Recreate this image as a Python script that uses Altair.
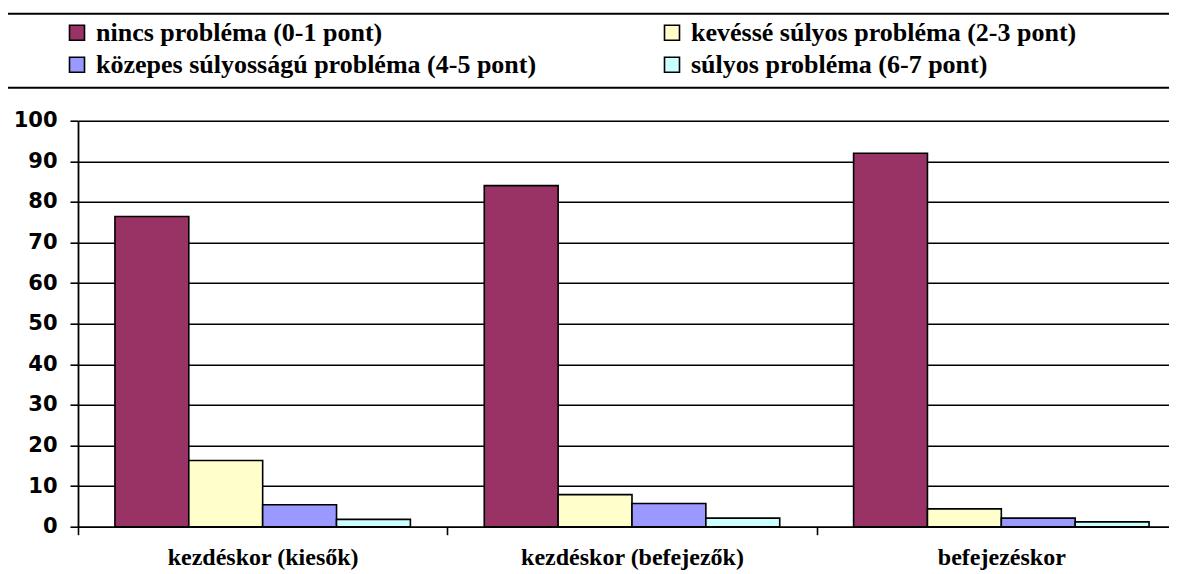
import json
import altair as alt
import pandas as pd

groups = ["kezdéskor (kiesők)", "kezdéskor (befejezők)", "befejezéskor"]
series = [
    "nincs probléma (0-1 pont)",
    "kevéssé súlyos probléma (2-3 pont)",
    "közepes súlyosságú probléma (4-5 pont)",
    "súlyos probléma (6-7 pont)",
]
nincs = [76.4, 84.0, 92.0]
keves = [16.3, 7.9, 4.4]
kozepes = [5.4, 5.7, 2.1]
sulyos = [1.8, 2.1, 1.2]
colors = ["#993366", "#FFFFCC", "#9999FF", "#CCFFFF"]
y_ticks = list(range(0, 101, 10))

rows = []
for si, vals in enumerate([nincs, keves, kozepes, sulyos]):
    for gi, v in enumerate(vals):
        rows.append({"group": groups[gi], "gi": gi, "series": series[si], "si": si, "value": v})
df = pd.DataFrame(rows)

# the legend grid is filled column by column
legend_order = [series[0], series[2], series[1], series[3]]
legend_colors = [colors[0], colors[2], colors[1], colors[3]]

W = 1091
H = 406
PAD_L = 70
PAD_T = 112.7
SVG_H = 566
SERIF = "Liberation Serif"

label_arr = []
for g in groups:
    label_arr += ["", g]
label_expr = json.dumps(label_arr, ensure_ascii=False) + "[round(datum.value*2)]"

xscale = alt.Scale(domain=[0, 2.954], nice=False, zero=False)

bars = (
    alt.Chart(df)
    .transform_calculate(
        x0="datum.gi + 0.1 + 0.2*datum.si",
        x1="datum.gi + 0.3 + 0.2*datum.si",
        base="0",
    )
    .mark_bar(stroke="black", strokeWidth=1.6, clip=False)
    .encode(
        x=alt.X(
            "x0:Q",
            scale=xscale,
            title=None,
            axis=alt.Axis(
                values=[0, 0.5, 1, 1.5, 2, 2.5],
                labelExpr=label_expr,
                grid=False,
                domainColor="black",
                domainWidth=1.6,
                tickColor="black",
                tickWidth=1.6,
                tickSize=8,
                tickOpacity={"condition": {"test": "datum.value % 1 == 0", "value": 1}, "value": 0},
                labelFont=SERIF,
                labelFontWeight="bold",
                labelFontSize=24,
                labelColor="black",
                labelBaseline="alphabetic",
                labelPadding=30,
                labelLimit=500,
                labelOverlap=False,
                labelFlush=False,
                labelBound=False,
            ),
        ),
        x2="x1:Q",
        y=alt.Y(
            "value:Q",
            scale=alt.Scale(domain=[0, 100], nice=False),
            title=None,
            axis=alt.Axis(
                values=y_ticks,
                grid=True,
                gridColor="black",
                gridWidth=1.6,
                gridOpacity=1,
                domainColor="black",
                domainWidth=1.8,
                tickColor="black",
                tickWidth=1.6,
                tickSize=8,
                labelFont="DejaVu Sans",
                labelFontWeight="bold",
                labelFontSize=21,
                labelColor="black",
                labelPadding=13,
            ),
        ),
        y2="base:Q",
        color=alt.Color(
            "series:N",
            scale=alt.Scale(domain=legend_order, range=legend_colors),
            legend=alt.Legend(
                title=None,
                orient="none",
                legendX=-14,
                legendY=-101,
                columns=2,
                columnPadding=122,
                rowPadding=6,
                padding=0,
                symbolType="square",
                symbolSize=225,
                symbolStrokeColor="black",
                symbolStrokeWidth=1.6,
                symbolOpacity=1,
                labelFont=SERIF,
                labelFontWeight="bold",
                labelFontSize=26,
                labelColor="black",
                labelOffset=6,
                labelLimit=1000,
            ),
        ),
    )
)

box = (
    alt.Chart(pd.DataFrame({"a": [0]}))
    .mark_rect(fill=None, stroke="black", strokeWidth=2, clip=False)
    .encode(x=alt.value(-71), x2=alt.value(1200), y=alt.value(-107), y2=alt.value(-33))
)

chart = (
    alt.layer(box, bars)
    .properties(
        width=W,
        height=H,
        autosize=alt.AutoSizeParams(type="none"),
        padding={"left": PAD_L, "top": PAD_T, "right": 0, "bottom": SVG_H - PAD_T - H},
    )
    .configure_view(stroke=None)
    .configure(background="white")
)

chart.save("out.html", embed_options={"renderer": "svg", "actions": False})
